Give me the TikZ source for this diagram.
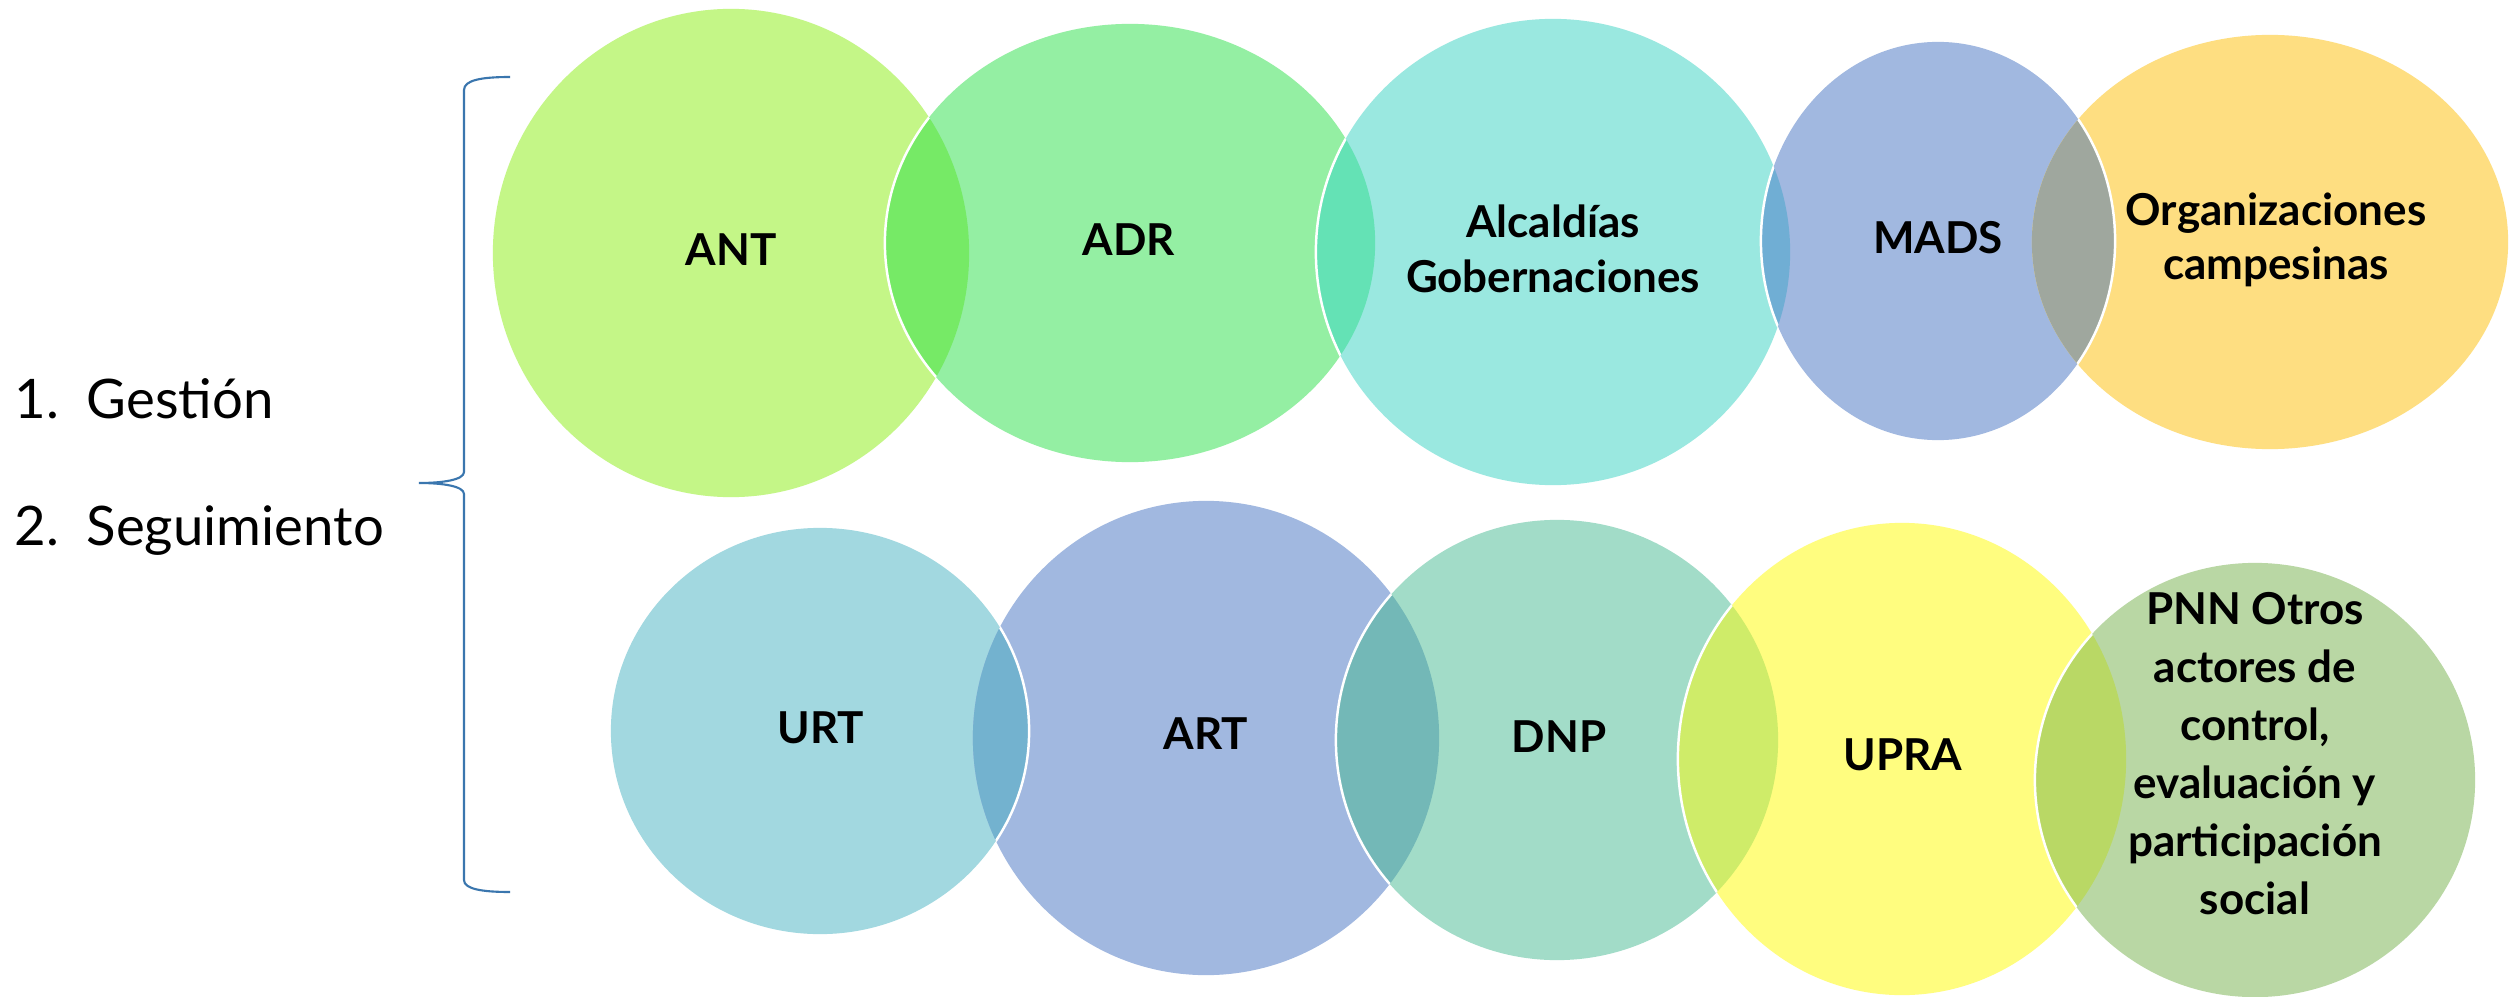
\documentclass[tikz,border=0pt]{standalone}
\usepackage{fontspec}
\setmainfont{Lato}
\definecolor{cANT}{HTML}{C4F687}
\definecolor{cADR}{HTML}{94EFA3}
\definecolor{cALC}{HTML}{9AE8E0}
\definecolor{cMADS}{HTML}{A1B8E0}
\definecolor{cORG}{HTML}{FEDE81}
\definecolor{cURT}{HTML}{A2D8E0}
\definecolor{cART}{HTML}{A1B8E0}
\definecolor{cDNP}{HTML}{A2DCC8}
\definecolor{cUPRA}{HTML}{FFFD7F}
\definecolor{cPNN}{HTML}{B9D7A4}
\definecolor{iANTADR}{HTML}{76EA66}
\definecolor{iADRALC}{HTML}{64E2B5}
\definecolor{iALCMADS}{HTML}{70AED4}
\definecolor{iMADSORG}{HTML}{9FA79E}
\definecolor{iURTART}{HTML}{73B2CF}
\definecolor{iARTDNP}{HTML}{73B8B7}
\definecolor{iDNPUPRA}{HTML}{CFEC69}
\definecolor{iUPRAPNN}{HTML}{B9D865}
\definecolor{braceblue}{HTML}{3A76AE}
\def\pANT{(731,253) ellipse [x radius=2.38cm, y radius=2.44cm]}
\def\pADR{(1130,243) ellipse [x radius=2.45cm, y radius=2.19cm]}
\def\pALC{(1553,252) ellipse [x radius=2.37cm, y radius=2.33cm]}
\def\pMADS{(1938,241) ellipse [x radius=1.77cm, y radius=1.99cm]}
\def\pORG{(2270,242) ellipse [x radius=2.38cm, y radius=2.07cm]}
\def\pURT{(820,731) ellipse [x radius=2.09cm, y radius=2.03cm]}
\def\pART{(1206,738) ellipse [x radius=2.33cm, y radius=2.37cm]}
\def\pDNP{(1557,740) ellipse [x radius=2.21cm, y radius=2.20cm]}
\def\pUPRA{(1902,759) ellipse [x radius=2.24cm, y radius=2.36cm]}
\def\pPNN{(2255,780) ellipse [x radius=2.20cm, y radius=2.17cm]}
\begin{document}
\begin{tikzpicture}[x=0.01cm,y=-0.01cm,
  lbl/.style={font=\bfseries\fontsize{12.5}{15.5}\selectfont, align=center, text=black, inner sep=0pt},
  lblpnn/.style={lbl, font=\bfseries\fontsize{12.5}{16.5}\selectfont},
  side/.style={font=\fontsize{15.5}{18}\selectfont, anchor=base west, inner sep=0pt},
  edgeline/.style={draw=white, line width=0.7pt},
  bracestyle/.style={draw=braceblue, line width=0.6pt}]
\useasboundingbox (0,0) rectangle (2509,997);
\fill[white] (0,0) rectangle (2509,997);
\begin{scope}
\clip (0,0) rectangle (2509,997);
% base fills
\fill[cANT] \pANT;
\fill[cADR] \pADR;
\fill[cALC] \pALC;
\fill[cMADS] \pMADS;
\fill[cORG] \pORG;
\fill[cURT] \pURT;
\fill[cART] \pART;
\fill[cDNP] \pDNP;
\fill[cUPRA] \pUPRA;
\fill[cPNN] \pPNN;
% intersections
\begin{scope}\clip \pANT; \fill[iANTADR] \pADR; \end{scope}
\begin{scope}\clip \pADR; \fill[iADRALC] \pALC; \end{scope}
\begin{scope}\clip \pALC; \fill[iALCMADS] \pMADS; \end{scope}
\begin{scope}\clip \pMADS; \fill[iMADSORG] \pORG; \end{scope}
\begin{scope}\clip \pURT; \fill[iURTART] \pART; \end{scope}
\begin{scope}\clip \pART; \fill[iARTDNP] \pDNP; \end{scope}
\begin{scope}\clip \pDNP; \fill[iDNPUPRA] \pUPRA; \end{scope}
\begin{scope}\clip \pUPRA; \fill[iUPRAPNN] \pPNN; \end{scope}
% white edges
\begin{scope}\clip \pANT; \path[edgeline] \pADR; \end{scope}
\begin{scope}\clip \pADR; \path[edgeline] \pALC; \end{scope}
\begin{scope}\clip \pALC; \path[edgeline] \pMADS; \end{scope}
\begin{scope}\clip \pORG; \path[edgeline] \pMADS; \end{scope}
\begin{scope}\clip \pART; \path[edgeline] \pURT; \end{scope}
\begin{scope}\clip \pART; \path[edgeline] \pDNP; \end{scope}
\begin{scope}\clip \pDNP; \path[edgeline] \pUPRA; \end{scope}
\begin{scope}\clip \pUPRA; \path[edgeline] \pPNN; \end{scope}
\end{scope}
% brace
\path[bracestyle] (510,77) .. controls (482,77) and (464,80) .. (464,90) -- (464,472)
  .. controls (464,480) and (442,483) .. (419,483)
  .. controls (442,483) and (464,486) .. (464,494) -- (464,880)
  .. controls (464,889) and (482,892) .. (510,892);
% side text
\node[side] (gestion) at (14,418) {\makebox[0.72cm][l]{1.}Gestión};
\node[side] (seguimiento) at (14,545) {\makebox[0.72cm][l]{2.}Seguimiento};
% labels
\node[lbl, anchor=base] (ant) at (731,265) {ANT};
\node[lbl, anchor=base] (adr) at (1129,255) {ADR};
\node[lbl] (alc) at (1553,249) {Alcaldías\\Gobernaciones};
\node[lbl, anchor=base] (mads) at (1938,253) {MADS};
\node[lbl] (org) at (2276,240) {Organizaciones\\campesinas};
\node[lbl, anchor=base] (urt) at (821,743) {URT};
\node[lbl, anchor=base] (art) at (1206,749) {ART};
\node[lbl, anchor=base] (dnp) at (1559,752) {DNP};
\node[lbl, anchor=base] (upra) at (1903,770) {UPRA};
\node[lblpnn] (pnn) at (2255,754) {PNN Otros\\actores de\\control,\\evaluación y\\participación\\social};
\end{tikzpicture}
\end{document}
